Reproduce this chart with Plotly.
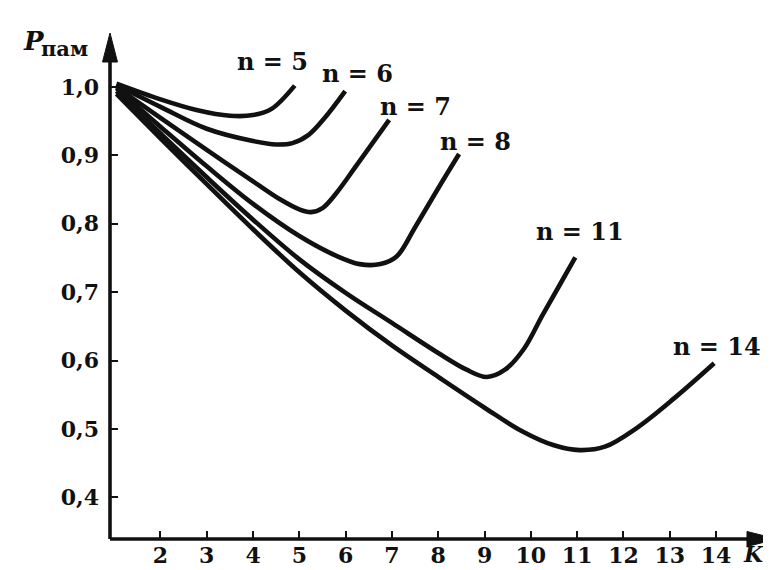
import plotly.graph_objects as go

# ---- data ----
k_n5 = [1.05, 2.0, 2.8, 3.5, 4.0, 4.4, 4.9]
p_n5 = [1.005, 0.982, 0.966, 0.958, 0.959, 0.968, 1.002]

k_n6 = [1.05, 2.0, 3.0, 4.0, 4.5, 4.85, 5.2, 5.55, 5.99]
p_n6 = [1.003, 0.971, 0.939, 0.921, 0.916, 0.918, 0.930, 0.955, 0.994]

k_n7 = [1.05, 2.0, 3.0, 4.0, 4.6, 5.0, 5.25, 5.5, 5.8, 6.2, 6.94]
p_n7 = [1.000, 0.955, 0.908, 0.862, 0.835, 0.821, 0.817, 0.823, 0.845, 0.882, 0.952]

k_n8 = [1.05, 2.0, 3.0, 4.0, 5.0, 5.8, 6.3, 6.75, 7.1, 7.5, 8.0, 8.45]
p_n8 = [0.998, 0.942, 0.884, 0.829, 0.782, 0.753, 0.741, 0.741, 0.752, 0.795, 0.852, 0.902]

k_n11 = [1.05, 2.0, 3.0, 4.0, 5.0, 6.0, 7.0, 8.0, 8.6, 9.05, 9.45, 9.86, 10.24, 10.61, 10.96]
p_n11 = [0.994, 0.932, 0.868, 0.806, 0.748, 0.699, 0.655, 0.611, 0.587, 0.576, 0.587, 0.618, 0.665, 0.709, 0.751]

k_n14 = [1.05, 2.0, 3.0, 4.0, 5.0, 6.0, 7.0, 8.0, 9.0, 9.8, 10.5, 11.05, 11.6, 12.3, 13.1, 13.96]
p_n14 = [0.990, 0.925, 0.858, 0.792, 0.729, 0.673, 0.622, 0.576, 0.531, 0.497, 0.476, 0.469, 0.474, 0.502, 0.545, 0.596]

series = [
    ("n = 5", k_n5, p_n5, 4.42, 1.038),
    ("n = 6", k_n6, p_n6, 6.25, 1.020),
    ("n = 7", k_n7, p_n7, 7.51, 0.972),
    ("n = 8", k_n8, p_n8, 8.80, 0.921),
    ("n = 11", k_n11, p_n11, 11.06, 0.788),
    ("n = 14", k_n14, p_n14, 14.02, 0.621),
]

x_ticks = [2, 3, 4, 5, 6, 7, 8, 9, 10, 11, 12, 13, 14]
x_ticktext = [str(v) for v in x_ticks]
y_ticks = [0.4, 0.5, 0.6, 0.7, 0.8, 0.9, 1.0]
y_ticktext = ["0,4", "0,5", "0,6", "0,7", "0,8", "0,9", "1,0"]

FONT = "DejaVu Serif"
INK = "#111111"

fig = go.Figure()
for name, ks, ps, lx, ly in series:
    fig.add_trace(go.Scatter(
        x=ks, y=ps, mode="lines", name=name,
        line=dict(color=INK, width=4.6, shape="spline", smoothing=1.0),
        cliponaxis=False, showlegend=False, hoverinfo="skip",
    ))
    fig.add_annotation(
        x=lx, y=ly, xref="x", yref="y", text=name,
        showarrow=False, xanchor="center", yanchor="middle",
        font=dict(family=FONT, size=24, color=INK, weight="bold"),
    )

# axis lines and arrowheads
shapes = [
    dict(type="line", xref="paper", yref="paper", x0=0, y0=0, x1=0.97, y1=0,
         line=dict(color=INK, width=3.6)),
    dict(type="line", xref="paper", yref="paper", x0=0, y0=0, x1=0, y1=0.96,
         line=dict(color=INK, width=3.6)),
    dict(type="path", xref="paper", yref="paper", xsizemode="pixel", ysizemode="pixel",
         xanchor=0.997, yanchor=0, path="M0,0 L-30,7.5 L-30,-7.5 Z",
         fillcolor=INK, line=dict(color=INK, width=1)),
    dict(type="path", xref="paper", yref="paper", xsizemode="pixel", ysizemode="pixel",
         xanchor=0, yanchor=1.0, path="M0,0 L-7.5,-29 L7.5,-29 Z",
         fillcolor=INK, line=dict(color=INK, width=1)),
]

# axis titles
fig.add_annotation(x=-0.114, y=0.985, xref="paper", yref="paper", text="<i>P</i>",
                   showarrow=False, xanchor="center", yanchor="middle",
                   font=dict(family=FONT, size=26, color=INK, weight="bold"))
fig.add_annotation(x=-0.068, y=0.97, xref="paper", yref="paper", text="пам",
                   showarrow=False, xanchor="center", yanchor="middle",
                   font=dict(family=FONT, size=21, color=INK, weight="bold"))
fig.add_annotation(x=0.98, y=-0.03, xref="paper", yref="paper", text="<i>K</i>",
                   showarrow=False, xanchor="right", yanchor="middle",
                   font=dict(family=FONT, size=22, color=INK, weight="bold"))

tickfont = dict(family=FONT, size=22, color=INK, weight="bold")
fig.update_layout(
    width=771, height=570,
    margin=dict(l=102, r=0, t=25, b=39),
    paper_bgcolor="white", plot_bgcolor="white",
    shapes=shapes,
    xaxis=dict(range=[0.91, 15.36], tickvals=x_ticks, ticktext=x_ticktext,
               ticks="inside", ticklen=8, tickwidth=2.2, tickcolor=INK,
               showline=False, showgrid=False, zeroline=False,
               tickfont=tickfont, ticklabelstandoff=1, fixedrange=True),
    yaxis=dict(range=[0.339, 1.079], tickvals=y_ticks, ticktext=y_ticktext,
               ticks="inside", ticklen=8, tickwidth=2.2, tickcolor=INK,
               showline=False, showgrid=False, zeroline=False,
               tickfont=tickfont, ticklabelstandoff=10, fixedrange=True),
)

fig.write_html("out.html")
